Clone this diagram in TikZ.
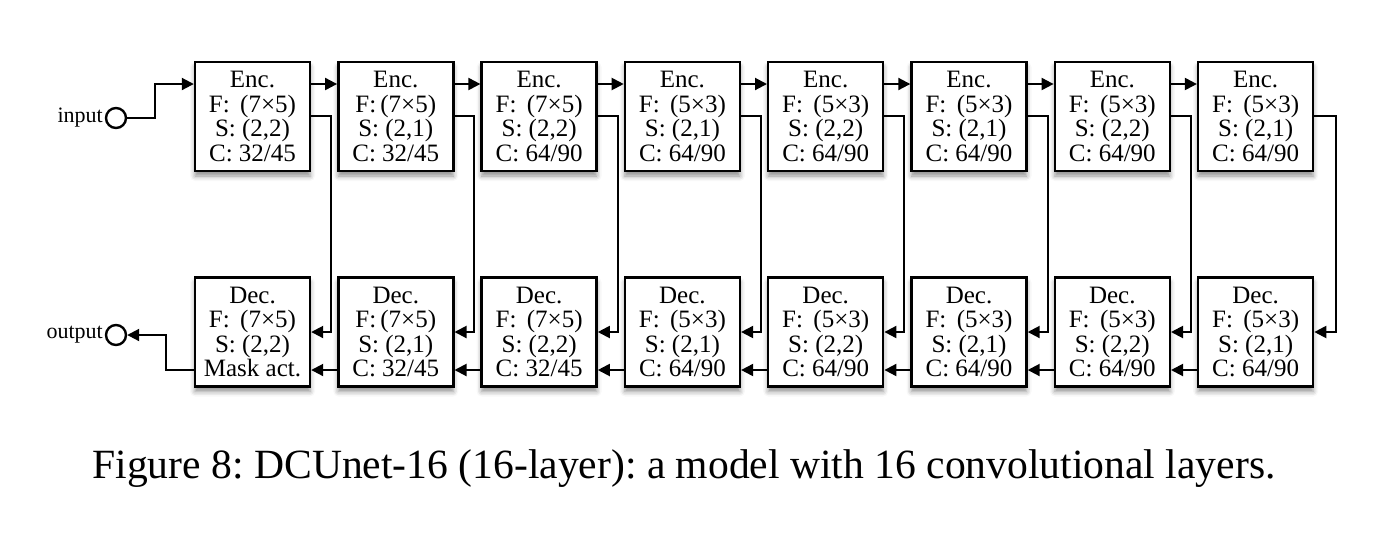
\documentclass[tikz,border=0pt]{standalone}
\usepackage{fontspec}
\setmainfont{Liberation Serif}
\usetikzlibrary{arrows.meta,calc,shadows.blur}
\frenchspacing

\begin{document}
\begin{tikzpicture}[x=0.5pt, y=-0.5pt, line width=1pt]
\tikzstyle{block} = [draw, line width=1.2pt, fill=white, minimum width=57.5pt, minimum height=54.5pt, inner sep=0pt, align=center, font=\fontsize{12.5}{12.3}\selectfont, blur shadow={shadow xshift=0pt, shadow yshift=-2.5pt, shadow blur radius=2.5pt, shadow opacity=45}]
\tikzstyle{port} = [circle, draw, line width=1.2pt, minimum size=10pt, inner sep=0pt]
\tikzstyle{arr} = [-{Triangle[length=6pt,width=6pt]}]
\useasboundingbox (0,0) rectangle (1390,532);
% encoder row
\node[block] (e1) at (252.5,116.5) {Enc.\\F: \,(7×5)\\S: (2,2)\\C: 32/45};
\node[block] (e2) at (395.8,116.5) {Enc.\\F:\,(7×5)\\S: (2,1)\\C: 32/45};
\node[block] (e3) at (539.1,116.5) {Enc.\\F: \,(7×5)\\S: (2,2)\\C: 64/90};
\node[block] (e4) at (682.4,116.5) {Enc.\\F: \,(5×3)\\S: (2,1)\\C: 64/90};
\node[block] (e5) at (825.7,116.5) {Enc.\\F: \,(5×3)\\S: (2,2)\\C: 64/90};
\node[block] (e6) at (969.0,116.5) {Enc.\\F: \,(5×3)\\S: (2,1)\\C: 64/90};
\node[block] (e7) at (1112.3,116.5) {Enc.\\F: \,(5×3)\\S: (2,2)\\C: 64/90};
\node[block] (e8) at (1255.6,116.5) {Enc.\\F: \,(5×3)\\S: (2,1)\\C: 64/90};
% decoder row
\node[block] (d1) at (252.5,332) {Dec.\\F: \,(7×5)\\S: (2,2)\\Mask act.};
\node[block] (d2) at (395.8,332) {Dec.\\F:\,(7×5)\\S: (2,1)\\C: 32/45};
\node[block] (d3) at (539.1,332) {Dec.\\F: \,(7×5)\\S: (2,2)\\C: 32/45};
\node[block] (d4) at (682.4,332) {Dec.\\F: \,(5×3)\\S: (2,1)\\C: 64/90};
\node[block] (d5) at (825.7,332) {Dec.\\F: \,(5×3)\\S: (2,2)\\C: 64/90};
\node[block] (d6) at (969.0,332) {Dec.\\F: \,(5×3)\\S: (2,1)\\C: 64/90};
\node[block] (d7) at (1112.3,332) {Dec.\\F: \,(5×3)\\S: (2,2)\\C: 64/90};
\node[block] (d8) at (1255.6,332) {Dec.\\F: \,(5×3)\\S: (2,1)\\C: 64/90};
% ports
\node[port, label={[inner sep=0.5pt, font=\fontsize{11}{12}\selectfont]left:input}] (in) at (116,118) {};
\node[port, label={[inner sep=0.5pt, font=\fontsize{11}{12}\selectfont]left:output}] (out) at (116,335) {};
\draw[arr] (in) -- (155,118) |- (e1.west |- 0,84);
\draw[arr] (d1.west |- 0,370) -- (166,370) |- (out);
% chains and skips
\foreach \i [evaluate=\i as \j using int(\i+1)] in {1,...,7} {
  \draw[arr] (e\i.east |- 0,84) -- (e\j.west |- 0,84);
  \draw[arr] (e\i.east |- 0,116) -- ($(e\j.west |- 0,116)+(-6,0)$) |- (d\i.east |- 0,332);
  \draw[arr] (d\j.west |- 0,370) -- (d\i.east |- 0,370);
}
\draw[arr] (e8.east |- 0,116) -- ++(22,0) |- (d8.east |- 0,332);
% caption
\node[font=\fontsize{20.8}{24}\selectfont, anchor=base] (cap) at (684,478) {Figure 8: DCUnet-16 (16-layer): a model with 16 convolutional layers.};
\end{tikzpicture}
\end{document}
